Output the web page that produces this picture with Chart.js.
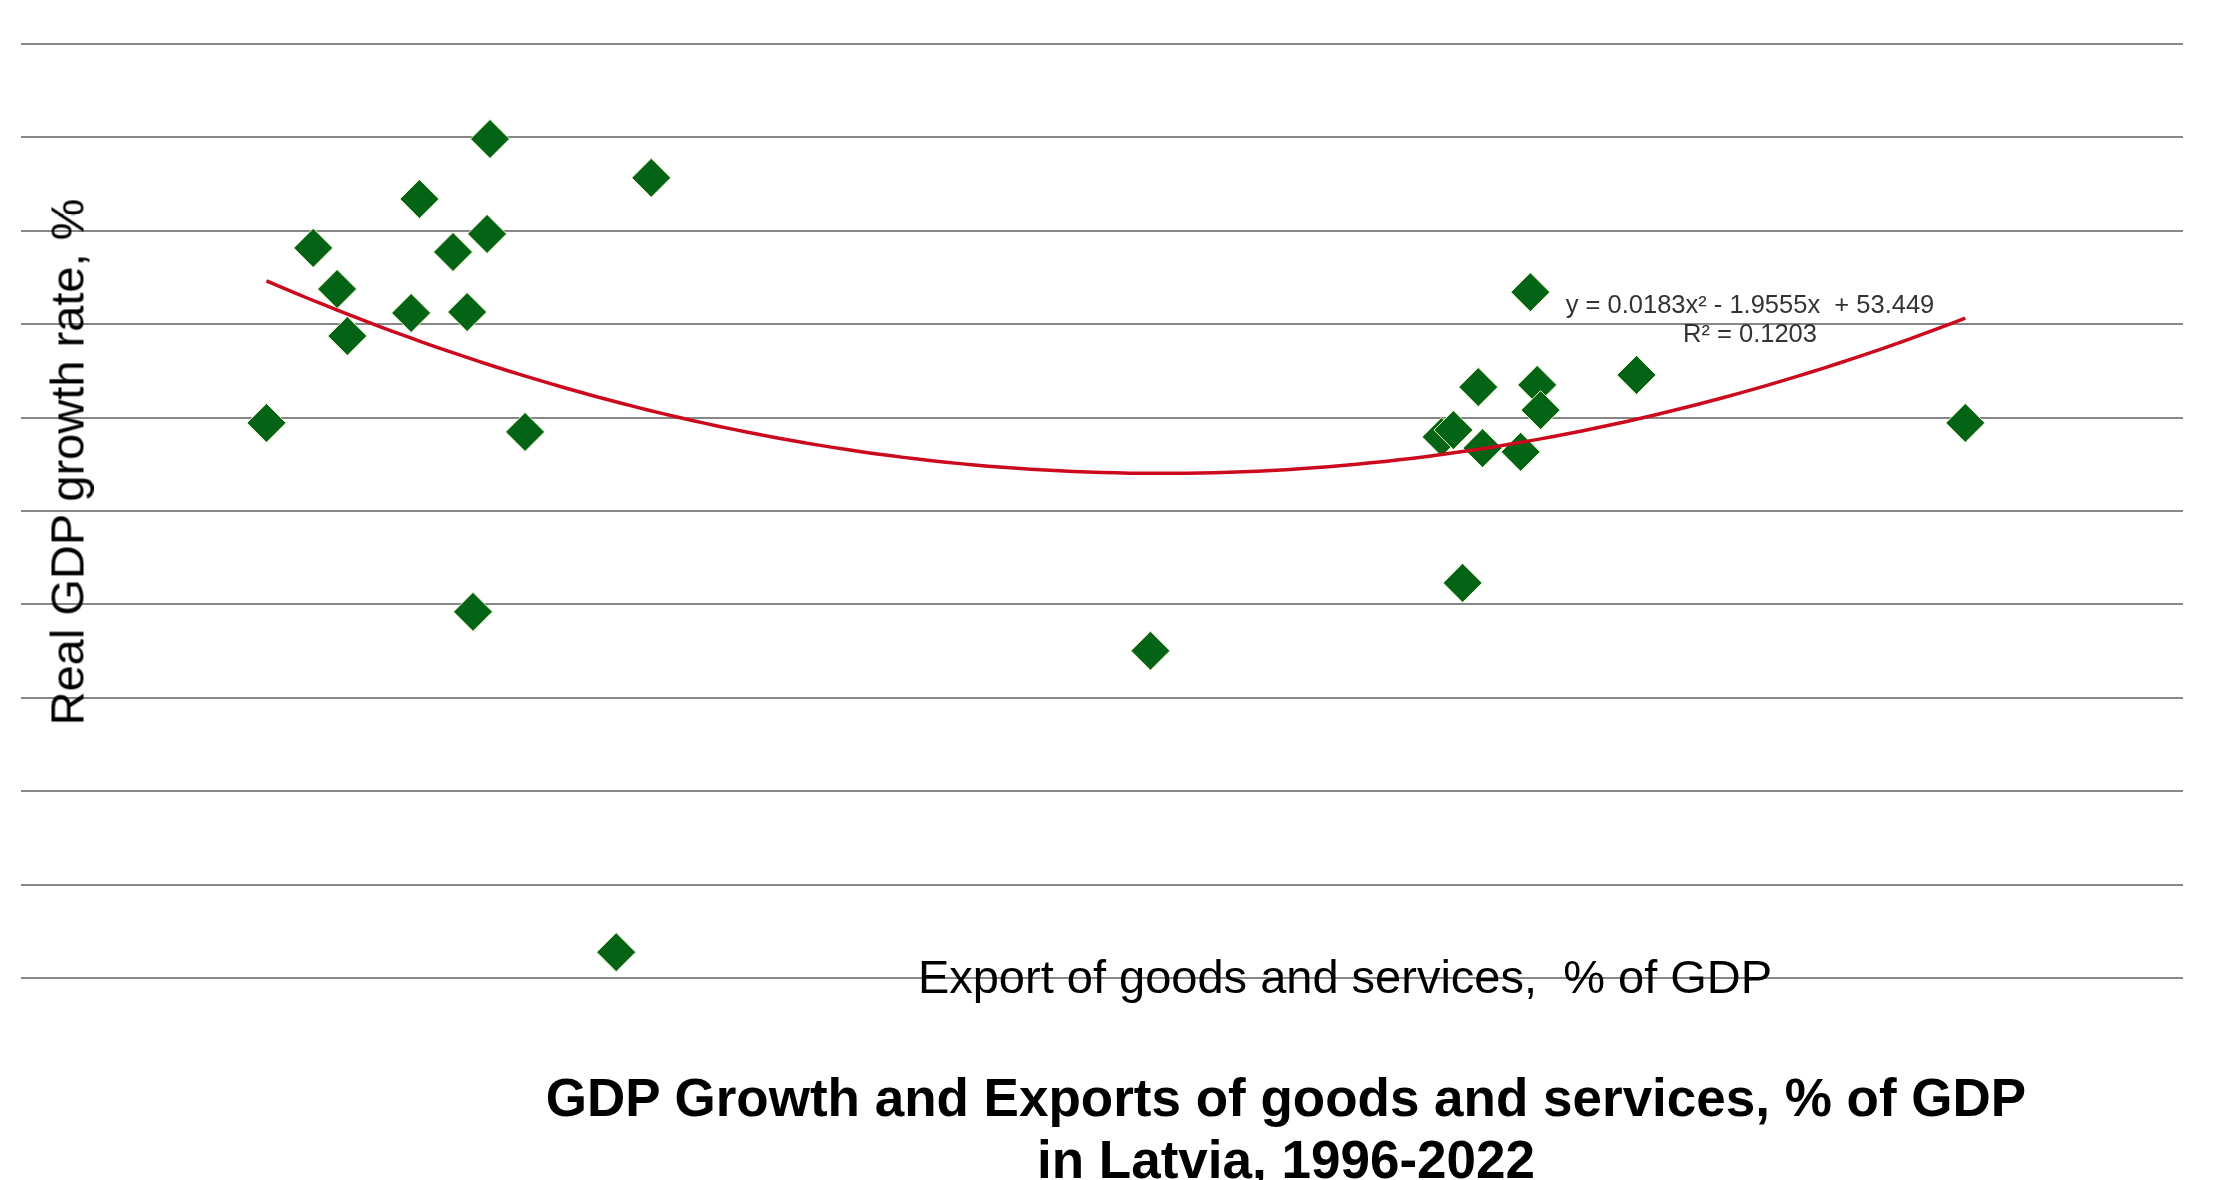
<!DOCTYPE html>
<html>
<head>
<meta charset="utf-8">
<title>GDP Growth and Exports, Latvia 1996-2022</title>
<script src="https://cdn.jsdelivr.net/npm/chart.js@4.4.1/dist/chart.umd.min.js"></script>
<style>
    html, body { margin: 0; padding: 0; background: #ffffff; overflow: hidden; }
    #wrap {
        position: relative;
        width: 2218px;
        height: 1180px;
        overflow: hidden;
        font-family: "Liberation Sans", Arial, sans-serif;
    }
    #wrap canvas { position: absolute; left: 0; top: 0; }
    .lbl { position: absolute; white-space: pre; line-height: 1; color: #000000; }
    #yTitle { font-size: 47px; left: 67px; top: 462px; transform: translate(-50%, -50%) rotate(-90deg); }
    #xTitle { font-size: 47px; left: 1345px; top: 953px; transform: translateX(-50%); }
    #trendLabel {
        font-size: 25.5px; line-height: 29px; color: #333333; text-align: center;
        left: 1750px; top: 290px; transform: translateX(-50%);
    }
    #mainTitle {
        font-size: 53px; font-weight: bold; line-height: 62px; text-align: center;
        left: 1286px; top: 1067px; transform: translateX(-50%);
    }
</style>
</head>
<body>
<div id="wrap">
    <canvas id="gdpExportChart" width="2218" height="1180"></canvas>
    <div class="lbl" id="yTitle">Real GDP growth rate, %</div>
    <div class="lbl" id="xTitle">Export of goods and services,  % of GDP</div>
    <div class="lbl" id="trendLabel">y = 0.0183x² - 1.9555x  + 53.449
R² = 0.1203</div>
    <div class="lbl" id="mainTitle">GDP Growth and Exports of goods and services, % of GDP
in Latvia, 1996-2022</div>
</div>
<script>
// Exports of goods and services, % of GDP (one value per year)
const exportShare = [
    35.05, 36.01, 36.50, 36.71, 38.02, 38.19, 38.88, 39.17, 39.58, 39.64,
    40.36, 39.29, 42.23, 42.95, 53.20, 59.61, 59.18, 59.42, 59.93, 60.02,
    60.80, 61.00, 61.14, 61.21, 63.18, 69.93
];

// Real GDP growth rate, %
const gdpGrowth = [
    2.83, 8.45, 7.13, 5.62, 6.36, 10.02, 8.32, 6.39, 8.90, 11.95,
    2.54, -3.24, -14.17, 10.70, -4.49, -2.31, 2.38, 2.60, 3.98, 2.02,
    1.90, 7.03, 4.05, 3.24, 4.37, 2.83
];

// Polynomial trendline y = a*x^2 + b*x + c
const trendCoef = [0.0183, -1.9555, 53.449];

// Axis ranges (no tick labels are shown, only the horizontal grid)
const xRange = [30, 74.4];
const yRange = [-15, 15];
const yStep = 3;

function trendCurve(xs, coef, steps) {
    const [a, b, c] = coef;
    const from = Math.min(...xs);
    const to = Math.max(...xs);
    const pts = [];
    for (let i = 0; i <= steps; i++) {
        const x = from + (to - from) * i / steps;
        pts.push({ x: x, y: a * x * x + b * x + c });
    }
    return pts;
}

const points = exportShare.map((x, i) => ({ x: x, y: gdpGrowth[i] }));

const ctx = document.getElementById('gdpExportChart').getContext('2d');

new Chart(ctx, {
    type: 'scatter',
    data: {
        datasets: [
            {
                type: 'line',
                label: 'Poly. trend',
                data: trendCurve(exportShare, trendCoef, 120),
                borderColor: '#cc0a1e',
                borderWidth: 3.5,
                pointRadius: 0,
                tension: 0,
                fill: false,
                order: 0,
            },
            {
                label: 'GDP growth vs exports',
                data: points,
                pointStyle: 'rectRot',
                pointRadius: 19.5,
                pointHoverRadius: 19.5,
                backgroundColor: '#046416',
                borderColor: '#eef2c4',
                borderWidth: 1,
                order: 1,
            },
        ],
    },
    options: {
        responsive: false,
        animation: false,
        layout: {
            padding: { left: 19, right: 35, top: 44, bottom: 202 },
        },
        plugins: {
            legend: { display: false },
            tooltip: { enabled: false },
            title: { display: false },
        },
        scales: {
            x: {
                type: 'linear',
                display: false,
                min: xRange[0],
                max: xRange[1],
            },
            y: {
                type: 'linear',
                min: yRange[0],
                max: yRange[1],
                ticks: { display: false, stepSize: yStep },
                border: { display: false },
                grid: {
                    color: '#878787',
                    lineWidth: 2,
                    drawTicks: false,
                },
            },
        },
    },
});
</script>
</body>
</html>
